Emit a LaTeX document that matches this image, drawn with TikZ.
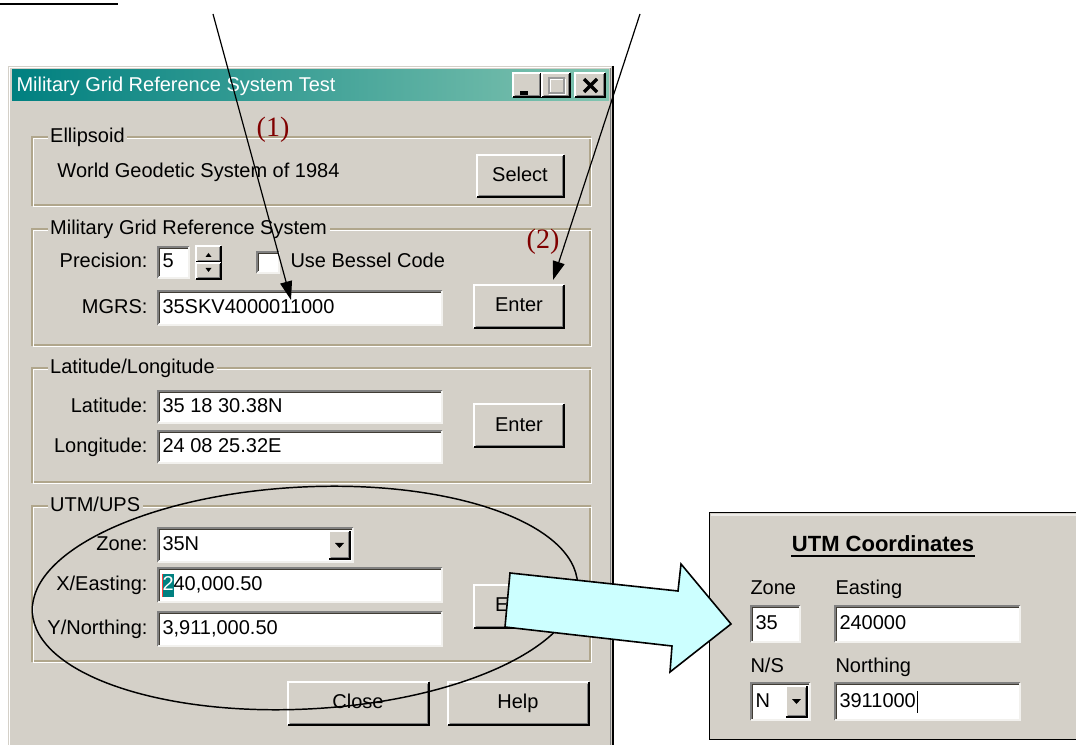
\documentclass[tikz,border=0pt]{standalone}
\usepackage{fontspec}
\setmainfont{Liberation Sans}
\newfontfamily\calloutfont{Liberation Serif}
\usetikzlibrary{arrows.meta}

\definecolor{winbg}{RGB}{212,208,200}
\definecolor{edgedark}{RGB}{128,128,128}
\definecolor{fieldedge}{RGB}{64,60,52}
\definecolor{groupline}{RGB}{176,166,140}
\definecolor{titleleft}{RGB}{0,128,128}
\definecolor{titleright}{RGB}{130,196,176}
\definecolor{notered}{RGB}{128,0,0}
\definecolor{arrowfill}{RGB}{204,255,255}
\definecolor{selteal}{RGB}{0,128,128}

\tikzset{every picture/.style={line width=0.75pt}}
\tikzset{
  ui/.style={font=\fontsize{15}{18}\selectfont, inner sep=0pt, text height=11pt, text depth=3pt},
  grouplabel/.style={ui, fill=winbg, inner xsep=2pt, anchor=west},
  fieldlabel/.style={ui, anchor=east},
  fieldtext/.style={ui, anchor=west},
  pointer/.style={line width=0.9pt, -{Triangle[length=14pt,width=9pt]}},
  callout/.style={font=\calloutfont\fontsize{21}{24}\selectfont, text=notered, inner sep=0pt},
}

% white sunken edit field: x1, y1, x2, y2
\newcommand{\fieldbox}[4]{%
  \fill[white] (#1,#2) rectangle (#3,#4);
  \draw[edgedark, line width=1.2pt] (#1,#4) -- (#1,#2) -- (#3,#2);
  \draw[fieldedge, line width=1.2pt] (#1+1.5,#4-1.5) -- (#1+1.5,#2+1.5) -- (#3-1.5,#2+1.5);
  \draw[white!70!winbg, line width=1.2pt] (#1,#4) -- (#3,#4) -- (#3,#2);
}
% raised push button: x1, y1, x2, y2
\newcommand{\btnbox}[4]{%
  \fill[winbg] (#1,#2) rectangle (#3,#4);
  \draw[white, line width=1.2pt] (#1,#4) -- (#1,#2) -- (#3,#2);
  \draw[black, line width=1.2pt] (#1,#4) -- (#3,#4) -- (#3,#2);
  \draw[edgedark, line width=1.2pt] (#1+1.5,#4-1.5) -- (#3-1.5,#4-1.5) -- (#3-1.5,#2+1.5);
}
% etched group frame: x1, y1, x2, y2
\newcommand{\groupframe}[4]{%
  \draw[groupline, line width=1pt] (#1,#2) rectangle (#3,#4);
  \draw[white, line width=1pt] (#1+1.5,#2+1.5) rectangle (#3+1.5,#4+1.5);
}

\begin{document}
\begin{tikzpicture}[x=0.75pt,y=0.75pt,yscale=-1,xscale=1]
\useasboundingbox[fill=white] (0,0) rectangle (1076,745);

%Underline of the heading cut at the top
\draw[line width=1.3pt] (0,4) -- (118,4);

%Window body
\fill[winbg] (8,66) rectangle (614,745);
\draw[white, line width=1.2pt] (9.5,745) -- (9.5,67.5) -- (611,67.5);
\draw[edgedark, line width=1.2pt] (610.5,68) -- (610.5,745);
\draw[black, line width=1.6pt] (613.2,66) -- (613.2,745);

%Title bar
\shade[left color=titleleft, right color=titleright] (12,70) rectangle (609,101);
\node[ui, anchor=west, text=white] (title) at (16,86) {Military Grid Reference System Test};
\btnbox{513}{73}{541}{97}
\btnbox{542}{73}{570}{97}
\btnbox{575}{73}{605}{97}
\fill[black] (520,91) rectangle (528,95);
\draw[white, line width=1.2pt] (550,79.5) rectangle (565,94.5);
\draw[edgedark!80, line width=1.2pt] (549,78) rectangle (564,93);
\draw[line width=2.4pt] (584,79) -- (597,92) (597,79) -- (584,92);

%Ellipsoid group
\groupframe{32}{137}{590}{205}
\node[grouplabel] (ellgrp) at (47,137) {Ellipsoid};
\node[fieldtext] (ellname) at (57,172) {World Geodetic System of 1984};
\btnbox{477}{155}{564}{197}
\node[ui] (selectbtn) at (520,176) {Select};

%MGRS group
\groupframe{32}{229}{590}{345}
\node[grouplabel] (mgrsgrp) at (47,229) {Military Grid Reference System};
\node[fieldlabel] (preclbl) at (148,262) {Precision:};
\fieldbox{158}{247}{189}{278}
\node[fieldtext] (precval) at (162,262) {5};
\btnbox{196}{246}{221}{262}
\btnbox{196}{263}{221}{279}
\fill (205.5,257) -- (211.5,257) -- (208.5,253) -- cycle;
\fill (205.5,268) -- (211.5,268) -- (208.5,272) -- cycle;
\fieldbox{257}{252}{279}{273}
\node[fieldtext] (bessel) at (290,262) {Use Bessel Code};
\node[fieldlabel] (mgrslbl) at (148,308) {MGRS:};
\fieldbox{158}{291}{442}{325}
\node[fieldtext] (mgrsval) at (162,308) {35SKV4000011000};
\btnbox{474}{285}{564}{328}
\node[ui] (mgrsenter) at (519,306) {Enter};

%Latitude/Longitude group
\groupframe{32}{368}{590}{482}
\node[grouplabel] (latlongrp) at (47,368) {Latitude/Longitude};
\node[fieldlabel] (latlbl) at (148,407) {Latitude:};
\fieldbox{158}{391}{442}{423}
\node[fieldtext] (latval) at (162,407) {35 18 30.38N};
\node[fieldlabel] (lonlbl) at (148,447) {Longitude:};
\fieldbox{158}{431}{442}{463}
\node[fieldtext] (lonval) at (162,447) {24 08 25.32E};
\btnbox{474}{404}{564}{447}
\node[ui] (latenter) at (519,426) {Enter};

%UTM/UPS group
\groupframe{32}{506}{590}{661}
\node[grouplabel] (utmgrp) at (47,506) {UTM/UPS};
\node[fieldlabel] (zonelbl) at (148,545) {Zone:};
\fieldbox{158}{528}{353}{562}
\node[fieldtext] (zoneval) at (162,545) {35N};
\btnbox{329}{531}{350}{559}
\fill (335,543) -- (344,543) -- (339.5,548) -- cycle;
\node[fieldlabel] (eastlbl) at (148,585) {X/Easting:};
\fieldbox{158}{568}{442}{602}
\fill[selteal] (162,574) rectangle (173.5,597);
\draw[red!75, line width=0.9pt] (162.5,574) -- (162.5,597);
\node[fieldtext] (eastval) at (162,585) {\textcolor{white}{2}40,000.50};
\node[fieldlabel] (northlbl) at (148,629) {Y/Northing:};
\fieldbox{158}{612}{442}{646}
\node[fieldtext] (northval) at (162,629) {3,911,000.50};
\btnbox{474}{585}{564}{628}
\node[ui] (utmenter) at (519,606) {Enter};

%Close and Help
\btnbox{288}{682}{429}{725}
\node[ui] (closebtn) at (358,703) {Close};
\btnbox{448}{682}{589}{725}
\node[ui] (helpbtn) at (518,703) {Help};

%Ellipse round the UTM fields
\draw[line width=1.1pt] (305,598) ellipse [x radius=273, y radius=111, rotate=-3];

%Pointers
\coordinate (from1) at (213,14);
\coordinate (to1) at (291,300);
\coordinate (from2) at (640,14);
\coordinate (to2) at (553,280);
\draw[pointer] (from1) -- (to1);
\draw[pointer] (from2) -- (to2);
\node[callout] (mark1) at (273,130) {(1)};
\node[callout] (mark2) at (543,242) {(2)};

%UTM Coordinates panel
\fill[winbg] (709,512) rectangle (1076,740);
\draw[black, line width=1pt] (1076,512.5) -- (709.5,512.5) -- (709.5,739.5) -- (1076,739.5);
\draw[white!60!winbg, line width=1pt] (711,515) -- (1076,515);
\node[ui, font=\bfseries\fontsize{16.5}{19}\selectfont] (utmhead) at (883,546) {UTM Coordinates};
\draw[line width=1.3pt] (utmhead.south west) -- (utmhead.south east);
\node[fieldtext] (zonehead) at (750,589) {Zone};
\node[fieldtext] (easthead) at (835,589) {Easting};
\fieldbox{751}{606}{800}{642}
\node[fieldtext] (zonenum) at (755,624) {35};
\fieldbox{835}{606}{1020}{642}
\node[fieldtext] (eastnum) at (839,624) {240000};
\node[fieldtext] (nshead) at (750,667) {N/S};
\node[fieldtext] (northhead) at (835,667) {Northing};
\fieldbox{751}{683}{810}{720}
\node[fieldtext] (nsval) at (755,702) {N};
\btnbox{786}{686}{807}{717}
\fill (792,699) -- (801,699) -- (796.5,704) -- cycle;
\fieldbox{835}{683}{1020}{720}
\node[fieldtext] (northnum) at (839,702) {3911000};
\draw[line width=0.9pt] ([xshift=1pt]northnum.east |- 0,691) -- ([xshift=1pt]northnum.east |- 0,713);

%Block arrow to the panel
\draw[line width=1.2pt, fill=arrowfill, line join=miter] (510,573) -- (678,591) -- (681,564) -- (731,624) -- (670,672) -- (672,646) -- (505,627) -- cycle;

\end{tikzpicture}
\end{document}
